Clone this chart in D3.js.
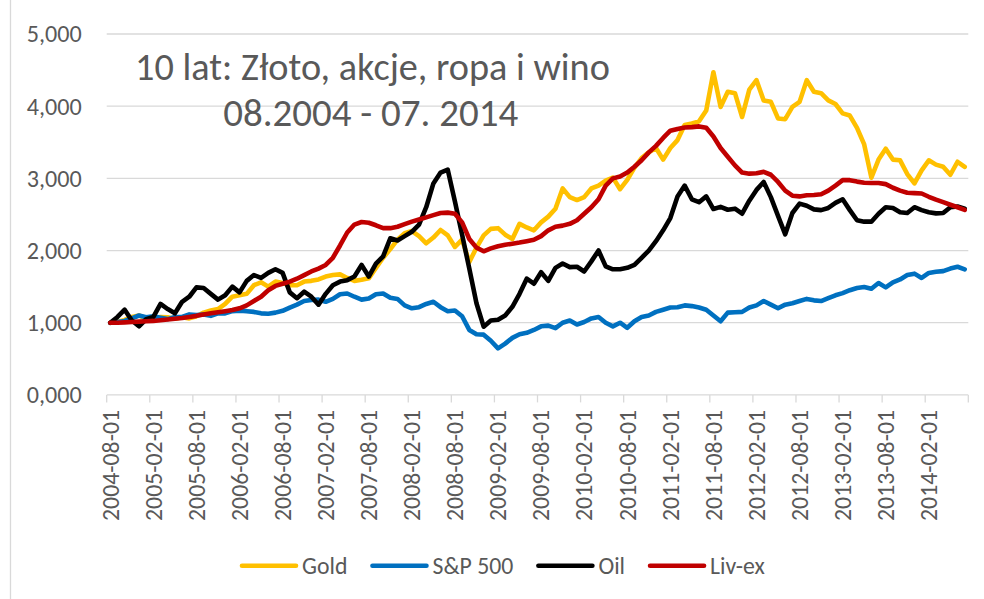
<!DOCTYPE html>
<html><head><meta charset="utf-8">
<script src="https://cdnjs.cloudflare.com/ajax/libs/d3/7.8.5/d3.min.js"></script>
<style>html,body{margin:0;padding:0;background:#fff;} svg{display:block;}</style>
</head><body>
<svg id="c" width="984" height="599"></svg>
<script>
// ---------- DATA ----------
const categories = d3.timeMonths(new Date(2004, 7, 1), new Date(2014, 7, 1)).map(d3.timeFormat("%Y-%m-%d"));
const seriesNames = ["Gold", "S&P 500", "Oil", "Liv-ex"];
const seriesColors = ["#FFC000", "#0070C0", "#000000", "#C00000"];
const yTicks = [0, 1000, 2000, 3000, 4000, 5000];
const yTickLabels = ["0,000", "1,000", "2,000", "3,000", "4,000", "5,000"];
const titleLines = ["10 lat: Złoto, akcje, ropa i wino", "08.2004 - 07. 2014"];

const gold = [
1000,1010,1040,1080,1100,1060,1060,1080,1075,1055,
1075,1060,1090,1140,1170,1190,1260,1360,1380,1400,
1520,1560,1500,1570,1550,1520,1520,1570,1580,1600,
1640,1660,1670,1620,1580,1595,1615,1760,1900,2020,
2150,2240,2270,2200,2100,2180,2285,2210,2050,2150,
1840,2040,2210,2300,2310,2220,2160,2370,2320,2280,
2390,2470,2580,2860,2740,2700,2740,2860,2900,2970,
3010,2850,2980,3150,3280,3360,3420,3260,3420,3530,
3740,3760,3790,3940,4470,3990,4200,4180,3850,4230,
4360,4080,4060,3830,3820,3990,4060,4360,4200,4180,
4080,4030,3900,3870,3700,3470,3010,3260,3410,3260,
3250,3060,2930,3110,3250,3190,3160,3050,3230,3160
];
const sp500 = [
1000,1010,1025,1060,1100,1075,1090,1070,1050,1080,
1080,1115,1105,1115,1095,1130,1130,1160,1165,1160,
1150,1130,1125,1140,1165,1210,1250,1300,1315,1320,
1290,1330,1395,1405,1360,1320,1335,1395,1405,1345,
1330,1240,1200,1215,1260,1290,1215,1160,1170,1090,
900,840,835,750,645,710,790,840,860,900,
950,960,925,1000,1030,975,1010,1060,1080,1000,
950,1000,930,1020,1080,1100,1150,1180,1210,1215,
1240,1230,1210,1180,1100,1020,1140,1145,1150,1210,
1240,1300,1250,1200,1250,1270,1300,1330,1310,1300,
1340,1380,1410,1450,1480,1495,1470,1550,1490,1560,
1600,1660,1680,1620,1690,1705,1715,1750,1775,1740
];
const oil = [
1000,1080,1180,1030,950,1050,1080,1260,1190,1130,
1290,1360,1490,1480,1400,1320,1380,1500,1420,1580,
1660,1620,1690,1740,1690,1420,1340,1430,1360,1250,
1400,1520,1570,1590,1640,1800,1640,1820,1920,2170,
2140,2200,2260,2360,2600,2930,3080,3120,2680,2220,
1750,1270,945,1030,1040,1100,1220,1400,1610,1540,
1700,1580,1760,1820,1770,1775,1710,1850,2000,1780,
1740,1740,1760,1800,1900,2000,2130,2280,2450,2750,
2900,2710,2670,2750,2575,2605,2565,2580,2510,2690,
2840,2950,2740,2480,2225,2520,2650,2620,2570,2560,
2590,2660,2710,2560,2420,2400,2400,2510,2600,2590,
2530,2520,2600,2560,2530,2515,2520,2600,2610,2580
];
const livex = [
1000,1000,1005,1010,1015,1020,1025,1035,1045,1055,
1065,1080,1095,1115,1130,1145,1160,1175,1200,1240,
1300,1360,1450,1510,1540,1570,1610,1660,1710,1750,
1800,1900,2070,2250,2360,2395,2385,2350,2310,2310,
2330,2365,2400,2430,2460,2490,2520,2525,2510,2390,
2160,2040,1990,2030,2060,2080,2095,2110,2130,2150,
2200,2280,2330,2345,2370,2420,2510,2600,2710,2900,
3000,3025,3080,3160,3250,3360,3450,3560,3660,3685,
3705,3710,3720,3700,3580,3420,3300,3180,3080,3065,
3070,3090,3050,2950,2830,2760,2750,2765,2770,2780,
2830,2900,2975,2975,2955,2940,2935,2935,2920,2870,
2830,2800,2795,2790,2745,2705,2670,2635,2600,2562
];
const seriesValues = [gold, sp500, oil, livex];

// ---------- CHART ----------
const FONT = "Carlito, Calibri, Lato, sans-serif";
const TXT = "#595959";
const GRID = "#d9d9d9";
const svg = d3.select("#c");

const plotL = 106.7, plotR = 968.3, plotT = 34, plotB = 394.9;
const x = d3.scaleBand().domain(categories).range([plotL, plotR]).paddingInner(0).paddingOuter(0);
const bw = x.bandwidth();
const y = d3.scaleLinear().domain([0, 5000]).range([plotB, plotT]);

// chart area border (left edge visible)
svg.append("line").attr("x1", 10.5).attr("x2", 10.5).attr("y1", 0).attr("y2", 599)
  .attr("stroke", GRID).attr("stroke-width", 1.3);

// gridlines
svg.append("g").selectAll("line").data(yTicks.filter(d => d > 0)).join("line")
  .attr("x1", plotL).attr("x2", plotR)
  .attr("y1", d => y(d)).attr("y2", d => y(d))
  .attr("stroke", GRID).attr("stroke-width", 1.3);

// x axis line
svg.append("line").attr("x1", plotL).attr("x2", plotR).attr("y1", y(0)).attr("y2", y(0))
  .attr("stroke", GRID).attr("stroke-width", 1.3);

// y labels
const yl = svg.append("g").selectAll("text").data(yTicks).join("text")
  .attr("x", 81.7).attr("y", d => y(d)).attr("dy", "0.35em")
  .attr("text-anchor", "end").attr("fill", TXT)
  .attr("font-family", FONT).attr("font-size", 20)
  .text((d, i) => yTickLabels[i]);
{
  const w = yl.nodes()[0].getComputedTextLength();
  yl.attr("font-size", 20 * 55 / w);
}

// x ticks
const tickCats = categories.filter((d, i) => i % 6 === 0);
const tickXs = tickCats.map(c => x(c)).concat([plotR]);
svg.append("g").selectAll("line").data(tickXs).join("line")
  .attr("x1", d => d).attr("x2", d => d)
  .attr("y1", y(0)).attr("y2", y(0) + 7.5)
  .attr("stroke", GRID).attr("stroke-width", 1.3);

// x labels
const xl = svg.append("g").selectAll("text").data(tickCats).join("text")
  .attr("transform", d => `translate(${x(d) + bw / 2},410) rotate(-90)`)
  .attr("dy", "0.35em").attr("text-anchor", "end").attr("fill", TXT)
  .attr("font-family", FONT).attr("font-size", 20)
  .text(d => d);
let labelFs = 20;
{
  const w = xl.nodes()[0].getComputedTextLength();
  labelFs = 20 * 111 / w;
  xl.attr("font-size", labelFs);
}

// lines
const line = d3.line().x((d, i) => x(categories[i]) + bw / 2).y(d => y(d));
svg.append("g").selectAll("path").data(seriesValues).join("path")
  .attr("d", d => line(d))
  .attr("fill", "none")
  .attr("stroke", (d, i) => seriesColors[i])
  .attr("stroke-width", 4.6)
  .attr("stroke-linejoin", "round").attr("stroke-linecap", "round");

// title
const titleY = [79.5, 125.5], titleW = [475, 295], titleX = [372.5, 370.7];
titleLines.forEach((t, i) => {
  const tt = svg.append("text").attr("x", titleX[i]).attr("y", titleY[i])
    .attr("text-anchor", "middle").attr("fill", TXT)
    .attr("font-family", FONT).attr("font-size", 34).text(t);
  const w = tt.node().getComputedTextLength();
  tt.attr("font-size", 34 * titleW[i] / w);
});

// legend
const legY = 565.7;
let lx = 242;
const lg = svg.append("g");
seriesNames.forEach((n, i) => {
  lg.append("line").attr("x1", lx).attr("x2", lx + 54).attr("y1", legY).attr("y2", legY)
    .attr("stroke", seriesColors[i]).attr("stroke-width", 4.6).attr("stroke-linecap", "round");
  const t = lg.append("text").attr("x", lx + 60).attr("y", legY).attr("dy", "0.35em")
    .attr("fill", TXT).attr("font-family", FONT).attr("font-size", labelFs).text(n);
  lx += 60 + t.node().getComputedTextLength() + 25;
});
</script>
</body></html>
